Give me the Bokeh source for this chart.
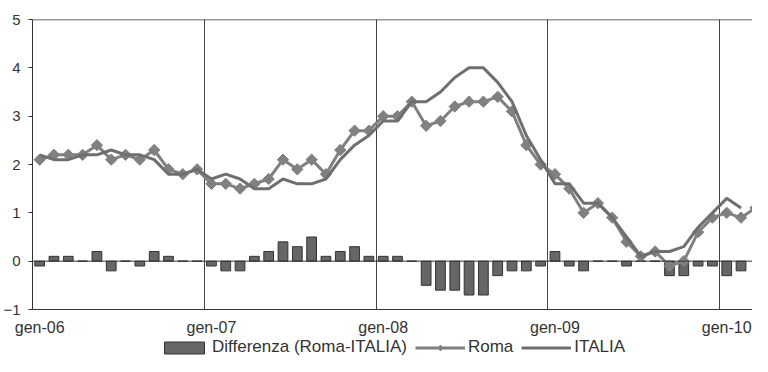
import numpy as np
from bokeh.plotting import figure
from bokeh.layouts import column
from bokeh.models import (ColumnDataSource, FixedTicker, Span, Legend, LegendItem,
                          Range1d)
from bokeh.embed import file_html
from bokeh.resources import INLINE

nan = float("nan")

# Month labels (Italian), Jan 2006 .. Mar 2010
mesi = ["gen", "feb", "mar", "apr", "mag", "giu", "lug", "ago", "set", "ott", "nov", "dic"]
anni = ["06", "07", "08", "09", "10"]
months = [f"{m}-{a}" for a in anni for m in mesi][:51]

# Inflation rates (%)
roma = [2.1, 2.2, 2.2, 2.2, 2.4, 2.1, 2.2, 2.1, 2.3, 1.9, 1.8, 1.9,
        1.6, 1.6, 1.5, 1.6, 1.7, 2.1, 1.9, 2.1, 1.8, 2.3, 2.7, 2.7,
        3.0, 3.0, 3.3, 2.8, 2.9, 3.2, 3.3, 3.3, 3.4, 3.1, 2.4, 2.0,
        1.8, 1.5, 1.0, 1.2, 0.9, 0.4, 0.1, 0.2, -0.1, 0.0, 0.6, 0.9,
        1.0, 0.9, 1.1]
italia = [2.2, 2.1, 2.1, 2.2, 2.2, 2.3, 2.2, 2.2, 2.1, 1.8, 1.8, 1.9,
          1.7, 1.8, 1.7, 1.5, 1.5, 1.7, 1.6, 1.6, 1.7, 2.1, 2.4, 2.6,
          2.9, 2.9, 3.3, 3.3, 3.5, 3.8, 4.0, 4.0, 3.7, 3.3, 2.6, 2.1,
          1.6, 1.6, 1.2, 1.2, 0.9, 0.5, 0.1, 0.2, 0.2, 0.3, 0.7, 1.0,
          1.3, 1.1, nan]
differenza = [-0.1, 0.1, 0.1, 0.0, 0.2, -0.2, 0.0, -0.1, 0.2, 0.1, 0.0, 0.0,
              -0.1, -0.2, -0.2, 0.1, 0.2, 0.4, 0.3, 0.5, 0.1, 0.2, 0.3, 0.1,
              0.1, 0.1, 0.0, -0.5, -0.6, -0.6, -0.7, -0.7, -0.3, -0.2, -0.2, -0.1,
              0.2, -0.1, -0.2, 0.0, 0.0, -0.1, 0.0, 0.0, -0.3, -0.3, -0.1, -0.1,
              -0.3, -0.2, nan]
y_ticks = [-1, 0, 1, 2, 3, 4, 5]

idx = np.arange(len(months))
src = ColumnDataSource(dict(x=idx + 0.5, month=months, roma=roma,
                            italia=italia, diff=differenza))

FONT = "Liberation Sans"
TXT = "#333333"
BAR_FILL, BAR_LINE = "#666666", "#333333"
ROMA_C, ITAL_C = "#808080", "#6f6f6f"

p = figure(width=752, height=338, output_backend="svg", toolbar_location=None,
           x_range=Range1d(0, 50.3), y_range=Range1d(-1, 5),
           min_border_left=26, min_border_right=0, min_border_top=19,
           min_border_bottom=27)
p.outline_line_color = None
p.background_fill_color = "white"

bars = p.vbar(x="x", top="diff", bottom=0, width=0.68, source=src,
              fill_color=BAR_FILL, line_color=BAR_LINE, line_width=1)
p.add_layout(Span(location=0, dimension="width", line_color="#333333", line_width=1))
p.add_layout(Span(location=5, dimension="width", line_color="#333333", line_width=1.5))

roma_line = p.line("x", "roma", source=src, line_color=ROMA_C, line_width=3)
roma_pts = p.scatter("x", "roma", source=src, marker="square", angle=np.pi / 4,
                     size=8, fill_color=ROMA_C, line_color=ROMA_C)
ital_line = p.line("x", "italia", source=src, line_color=ITAL_C, line_width=3)

# axes
p.yaxis.ticker = FixedTicker(ticks=y_ticks)
p.yaxis.major_tick_out = 4
p.yaxis.major_tick_in = 0
p.yaxis.minor_tick_line_color = None
p.yaxis.axis_line_color = "#333333"
p.yaxis.major_tick_line_color = "#333333"
p.yaxis.major_label_standoff = 8
p.yaxis.major_label_text_font = FONT
p.yaxis.major_label_text_font_size = "15px"
p.yaxis.major_label_text_color = TXT

label_pos = [float(i) + 0.5 for i in range(0, len(months), 12)]
p.xaxis.ticker = FixedTicker(ticks=label_pos)
p.xaxis.major_label_overrides = {pos: months[int(pos)] for pos in label_pos}
p.xaxis.major_tick_line_color = None
p.xaxis.minor_tick_line_color = None
p.xaxis.axis_line_color = "#333333"
p.xaxis.major_label_standoff = 3
p.xaxis.major_label_text_font = FONT
p.xaxis.major_label_text_font_size = "16px"
p.xaxis.major_label_text_color = TXT

p.ygrid.grid_line_color = None
p.xgrid.ticker = FixedTicker(ticks=[12, 24, 36, 48])
p.xgrid.grid_line_color = "#444444"
p.xgrid.grid_line_width = 1

# legend strip below the chart (legend-only renderers lie outside the strip's ranges)
lg = figure(width=752, height=18, output_backend="svg", toolbar_location=None,
            x_range=Range1d(0, 1), y_range=Range1d(0, 1),
            x_axis_type=None, y_axis_type=None,
            min_border_left=18, min_border_right=0, min_border_top=0,
            min_border_bottom=0)
lg.outline_line_color = None
lg.xgrid.visible = False
lg.ygrid.visible = False
e = ColumnDataSource(dict(x=[-10.0], y=[-10.0]))
d_bar = lg.vbar(x="x", top="y", width=0.1, source=e,
                fill_color=BAR_FILL, line_color=BAR_LINE, line_width=1)
d_rl = lg.line("x", "y", source=e, line_color=ROMA_C, line_width=3)
d_rp = lg.scatter("x", "y", source=e, marker="diamond", size=13,
                  fill_color=ROMA_C, line_color=ROMA_C)
d_il = lg.line("x", "y", source=e, line_color=ITAL_C, line_width=3)

legend = Legend(items=[
    LegendItem(label="Differenza (Roma-ITALIA)", renderers=[d_bar]),
    LegendItem(label="Roma", renderers=[d_rl, d_rp]),
    LegendItem(label="ITALIA", renderers=[d_il]),
], orientation="horizontal", location="center",
    glyph_width=50, glyph_height=15, label_standoff=3, spacing=8,
    padding=0, margin=0, border_line_alpha=0, background_fill_alpha=0,
    label_text_font=FONT, label_text_font_size="17px", label_text_color=TXT,
    label_height=16)
lg.add_layout(legend)

open("out.html", "w").write(file_html(column(p, lg, spacing=0), INLINE))
